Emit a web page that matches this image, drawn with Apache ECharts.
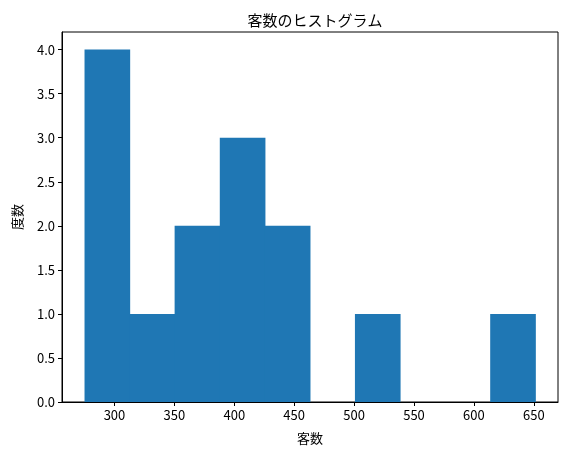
<!DOCTYPE html>
<html>
<head>
    <meta charset="utf-8">
    <title>客数のヒストグラム</title>
    <script src="https://cdn.jsdelivr.net/npm/echarts@6/dist/echarts.min.js"></script>
    <style>
        html, body { margin: 0; padding: 0; background: #fff; }
        #main { width: 567px; height: 455px; }
    </style>
</head>
<body>
<div id="main"></div>
<script type="text/javascript">
    // histogram bins
    var binEdges = [275.0, 312.6, 350.2, 387.9, 425.5, 463.1, 500.7, 538.3, 575.9, 613.6, 651.2];
    var counts = [4, 1, 2, 3, 2, 0, 1, 0, 0, 1];
    var xTicks = [300, 350, 400, 450, 500, 550, 600, 650];
    var yTicks = [0, 0.5, 1, 1.5, 2, 2.5, 3, 3.5, 4];
    var titleText = '客数のヒストグラム';
    var xName = '客数';
    var yName = '度数';

    var font = '"Noto Sans CJK JP", "Noto Sans", sans-serif';

    var barData = [];
    for (var i = 0; i < counts.length; i++) {
        barData.push([binEdges[i], binEdges[i + 1], counts[i]]);
    }

    var myChart = echarts.init(document.getElementById('main'), null, { renderer: 'canvas' });
    var option = {
        animation: false,
        title: {
            text: titleText,
            left: 310,
            textAlign: 'center',
            top: 8,
            textStyle: { fontFamily: font, fontSize: 15, fontWeight: 'normal', color: '#000' }
        },
        grid: { left: 62, right: 9, top: 32, bottom: 53, show: true, borderColor: '#000', borderWidth: 1 },
        xAxis: {
            type: 'value',
            min: 256.2,
            max: 670.2,
            name: xName,
            nameLocation: 'middle',
            nameGap: 30,
            nameTextStyle: { fontFamily: font, fontSize: 13, color: '#000' },
            axisLine: { show: true, onZero: false, lineStyle: { color: '#000', width: 1 } },
            axisTick: { show: true, length: 4, customValues: xTicks, lineStyle: { color: '#000' } },
            axisLabel: {
                fontFamily: font, fontSize: 13, color: '#000', margin: 7,
                customValues: xTicks
            },
            splitLine: { show: false }
        },
        yAxis: {
            type: 'value',
            min: 0,
            max: 4.2,
            name: yName,
            nameLocation: 'middle',
            nameGap: 38,
            nameRotate: 90,
            nameTextStyle: { fontFamily: font, fontSize: 13, color: '#000' },
            axisLine: { show: true, lineStyle: { color: '#000', width: 1 } },
            axisTick: { show: true, length: 4, customValues: yTicks, lineStyle: { color: '#000' } },
            axisLabel: {
                fontFamily: font, fontSize: 13, color: '#000', margin: 7,
                customValues: yTicks,
                formatter: function (v) { return v.toFixed(1); }
            },
            splitLine: { show: false }
        },
        series: [
            {
                type: 'custom',
                data: barData,
                renderItem: function (params, api) {
                    if (!api.value(2)) {
                        return null;
                    }
                    var p0 = api.coord([api.value(0), api.value(2)]);
                    var p1 = api.coord([api.value(1), 0]);
                    // small overlap so neighbouring bars show no seam
                    return {
                        type: 'rect',
                        shape: { x: p0[0], y: p0[1], width: p1[0] - p0[0] + 0.6, height: p1[1] - p0[1] },
                        style: { fill: '#1f77b4' }
                    };
                },
                encode: { x: [0, 1], y: 2 }
            }
        ]
    };
    myChart.setOption(option);
    window.onresize = myChart.resize;
</script>
</body>
</html>
